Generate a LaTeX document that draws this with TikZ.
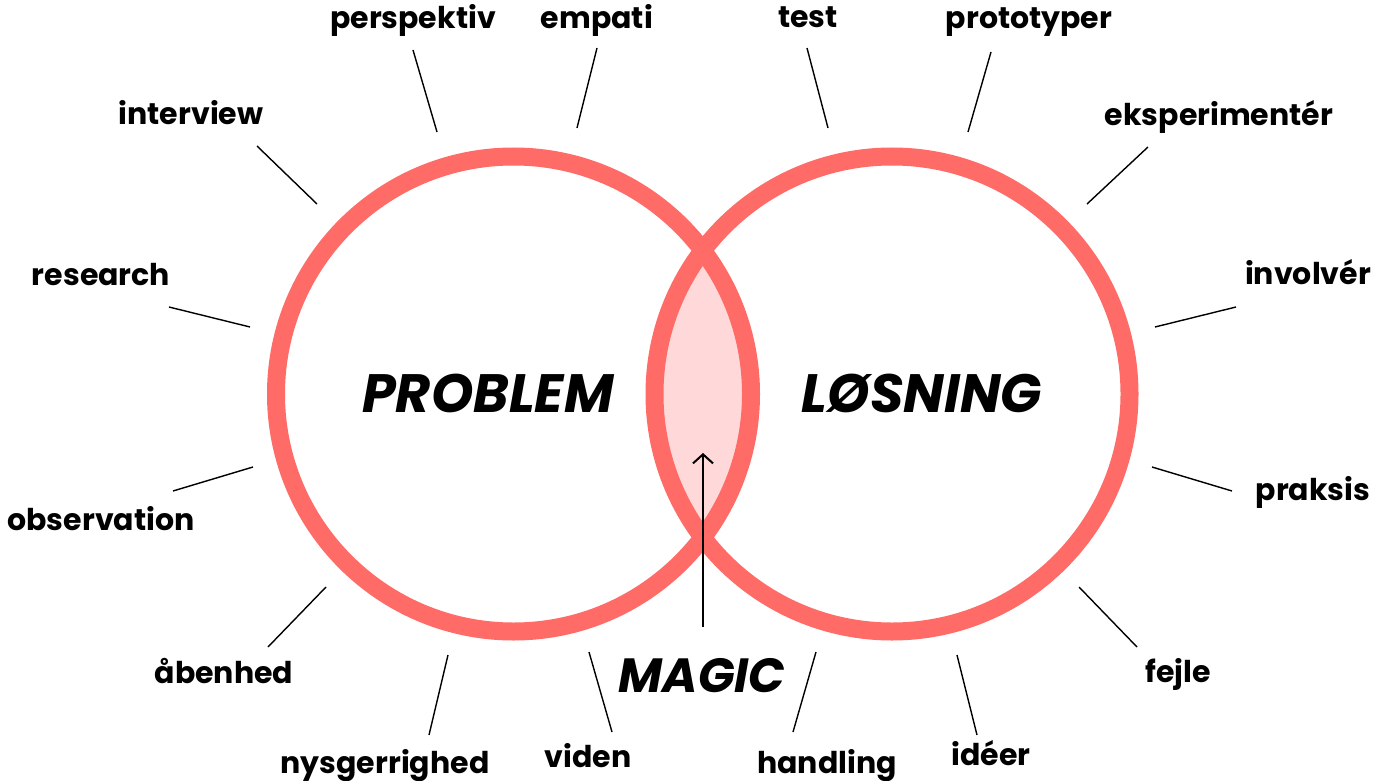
\documentclass[tikz,border=0pt]{standalone}
\usepackage{fontspec}
\setmainfont{Poppins}
\usetikzlibrary{arrows.meta}

\definecolor{ringred}{RGB}{255,107,103}
\definecolor{lenspink}{RGB}{255,217,217}

\tikzset{
  lbl/.style={font=\fontsize{30}{36}\selectfont\bfseries, anchor=base, inner sep=0pt},
  big/.style={font=\fontsize{54}{60}\selectfont\bfseries\itshape, anchor=base, inner sep=0pt},
  spoke/.style={line width=1.4pt},
  ring/.style={draw=ringred, line width=18pt}
}

\begin{document}
\begin{tikzpicture}[x=1pt,y=-1pt]
      \useasboundingbox (0,0) rectangle (1387,781);

      \coordinate (prob) at (513.5,394);
      \coordinate (losn) at (892,394);

      % the overlap
      \begin{scope}
        \clip (prob) circle (237.5pt);
        \fill[lenspink] (losn) circle (237.5pt);
      \end{scope}
      \draw[ring] (prob) circle (237.5pt);
      \draw[ring] (losn) circle (237.5pt);

      \node[big] (problem) at (488,412) {PROBLEM};
      \node[big] (losning) at (922,412) {LØSNING};
      \node[big,font=\fontsize{48}{54}\selectfont\bfseries\itshape] (magic) at (702,692) {MAGIC};

      \coordinate (magic-foot) at (703,627);
      \coordinate (lens) at (703,453);
      \draw[line width=2pt,-{Straight Barb[length=9pt,width=20pt]}] (magic-foot) -- (lens);

      % left circle
      \node[lbl] (perspektiv) at (413,29) {perspektiv};
      \coordinate (perspektiv-o) at (413,50); \coordinate (perspektiv-i) at (437,132);
      \draw[spoke] (perspektiv-o) -- (perspektiv-i);

      \node[lbl] (empati) at (597,29) {empati};
      \coordinate (empati-o) at (597,48); \coordinate (empati-i) at (577,128);
      \draw[spoke] (empati-o) -- (empati-i);

      \node[lbl] (interview) at (191,125) {interview};
      \coordinate (interview-o) at (257,146); \coordinate (interview-i) at (317,204);
      \draw[spoke] (interview-o) -- (interview-i);

      \node[lbl] (research) at (101,285) {research};
      \coordinate (research-o) at (169,307); \coordinate (research-i) at (250,327);
      \draw[spoke] (research-o) -- (research-i);

      \node[lbl] (observation) at (101,530) {observation};
      \coordinate (observation-o) at (173,491); \coordinate (observation-i) at (253,467);
      \draw[spoke] (observation-o) -- (observation-i);

      \node[lbl] (abenhed) at (224,683) {åbenhed};
      \coordinate (abenhed-o) at (268,647); \coordinate (abenhed-i) at (326,587);
      \draw[spoke] (abenhed-o) -- (abenhed-i);

      \node[lbl] (nysgerrighed) at (385,773) {nysgerrighed};
      \coordinate (nysgerrighed-o) at (429,735); \coordinate (nysgerrighed-i) at (448,655);
      \draw[spoke] (nysgerrighed-o) -- (nysgerrighed-i);

      \node[lbl] (viden) at (588,767) {viden};
      \coordinate (viden-o) at (612,732); \coordinate (viden-i) at (589,652);
      \draw[spoke] (viden-o) -- (viden-i);

      % right circle
      \node[lbl] (test) at (808,28) {test};
      \coordinate (test-o) at (807,48); \coordinate (test-i) at (828,128);
      \draw[spoke] (test-o) -- (test-i);

      \node[lbl] (prototyper) at (1029,29) {prototyper};
      \coordinate (prototyper-o) at (991,52); \coordinate (prototyper-i) at (968,132);
      \draw[spoke] (prototyper-o) -- (prototyper-i);

      \node[lbl] (eksperimenter) at (1219,126) {eksperimentér};
      \coordinate (eksperimenter-o) at (1148,147); \coordinate (eksperimenter-i) at (1087,204);
      \draw[spoke] (eksperimenter-o) -- (eksperimenter-i);

      \node[lbl] (involver) at (1308,284) {involvér};
      \coordinate (involver-o) at (1236,307); \coordinate (involver-i) at (1155,327);
      \draw[spoke] (involver-o) -- (involver-i);

      \node[lbl] (praksis) at (1313,500) {praksis};
      \coordinate (praksis-o) at (1232,491); \coordinate (praksis-i) at (1152,467);
      \draw[spoke] (praksis-o) -- (praksis-i);

      \node[lbl] (fejle) at (1178,682) {fejle};
      \coordinate (fejle-o) at (1137,647); \coordinate (fejle-i) at (1079,587);
      \draw[spoke] (fejle-o) -- (fejle-i);

      \node[lbl] (ideer) at (991,765) {idéer};
      \coordinate (ideer-o) at (977,735); \coordinate (ideer-i) at (957,655);
      \draw[spoke] (ideer-o) -- (ideer-i);

      \node[lbl] (handling) at (827,773) {handling};
      \coordinate (handling-o) at (793,732); \coordinate (handling-i) at (816,652);
      \draw[spoke] (handling-o) -- (handling-i);
   \end{tikzpicture}
\end{document}
